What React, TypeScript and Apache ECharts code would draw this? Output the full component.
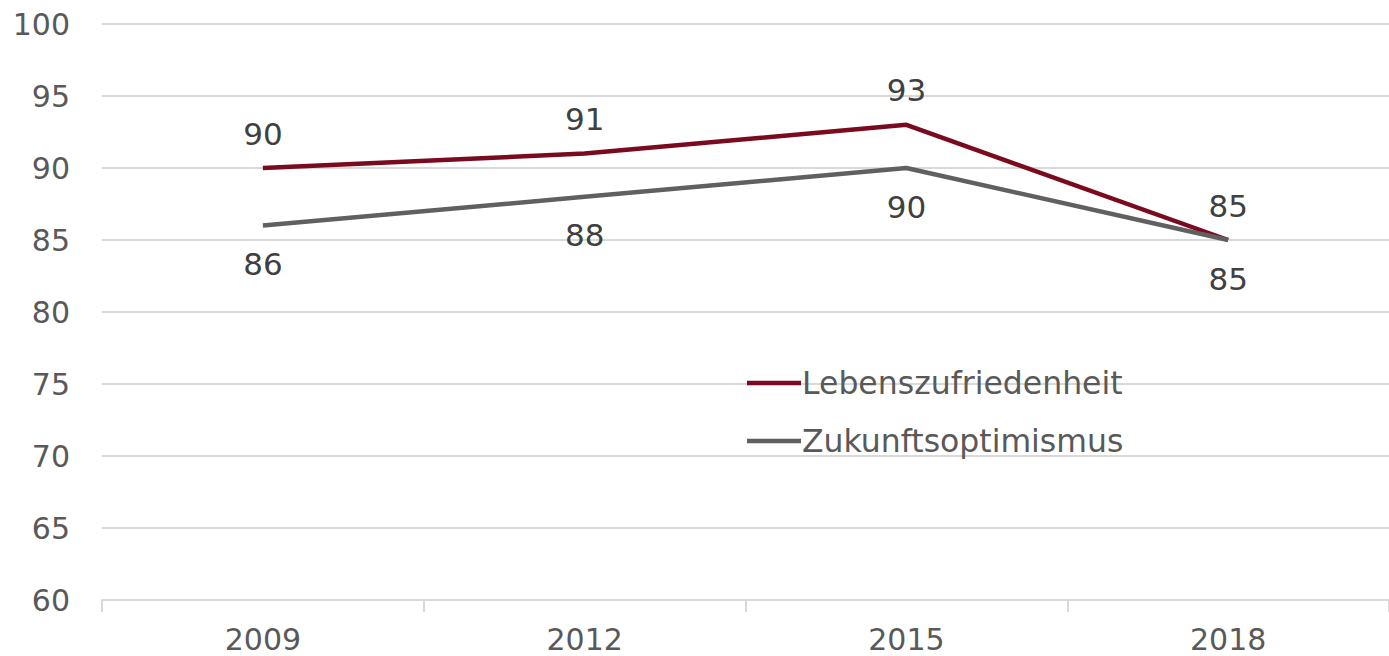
import React, { useEffect, useRef } from "react";
import * as echarts from "echarts";

const years = ["2009", "2012", "2015", "2018"];
const lebenszufriedenheit = [90, 91, 93, 85];
const zukunftsoptimismus = [86, 88, 90, 85];
const seriesNames = ["Lebenszufriedenheit", "Zukunftsoptimismus"];

const FONT = "DejaVu Sans";

export default function App() {
  const ref = useRef<HTMLDivElement>(null);
  useEffect(() => {
    if (!ref.current) return;
    const chart = echarts.init(ref.current, null, { renderer: "svg" });
    chart.setOption({
      animation: false,
      textStyle: { fontFamily: FONT },
      grid: { left: 102, right: 0, top: 24, bottom: 56, containLabel: false },
      legend: {
        orient: "vertical",
        left: 742,
        top: 362,
        itemWidth: 54,
        itemHeight: 4.5,
        itemGap: 26,
        icon: "rect",
        data: seriesNames,
        textStyle: { fontFamily: FONT, fontSize: 31.5, color: "#595959", padding: [0, 0, 0, -4] },
      },
      xAxis: {
        type: "category",
        data: years,
        boundaryGap: true,
        axisLine: { show: true, lineStyle: { color: "#D9D9D9", width: 2 } },
        axisTick: { show: true, length: 12, lineStyle: { color: "#D9D9D9", width: 2 } },
        axisLabel: { color: "#595959", fontSize: 30, fontFamily: FONT, margin: 24 },
        splitLine: { show: false },
      },
      yAxis: {
        type: "value",
        min: 60,
        max: 100,
        interval: 5,
        axisLine: { show: false },
        axisTick: { show: false },
        axisLabel: { color: "#595959", fontSize: 30, fontFamily: FONT, margin: 32 },
        splitLine: { lineStyle: { color: "#D9D9D9", width: 2 } },
      },
      series: [
        {
          name: seriesNames[0],
          type: "line",
          data: lebenszufriedenheit,
          symbol: "circle",
          symbolSize: 0,
          showSymbol: true,
          lineStyle: { color: "#7A0A1E", width: 4.5 },
          itemStyle: { color: "#7A0A1E" },
          label: { show: true, position: "top", distance: 19, color: "#404040", fontSize: 31, fontFamily: FONT },
          z: 3,
        },
        {
          name: seriesNames[1],
          type: "line",
          data: zukunftsoptimismus,
          symbol: "circle",
          symbolSize: 0,
          showSymbol: true,
          lineStyle: { color: "#606060", width: 4.5 },
          itemStyle: { color: "#606060" },
          label: { show: true, position: "bottom", distance: 23, color: "#404040", fontSize: 31, fontFamily: FONT },
          z: 4,
        },
      ],
    });
    return () => chart.dispose();
  }, []);
  return (
    <div
      ref={ref}
      style={{ position: "fixed", left: 0, top: 0, width: 1389, height: 656, background: "#fff" }}
    />
  );
}
